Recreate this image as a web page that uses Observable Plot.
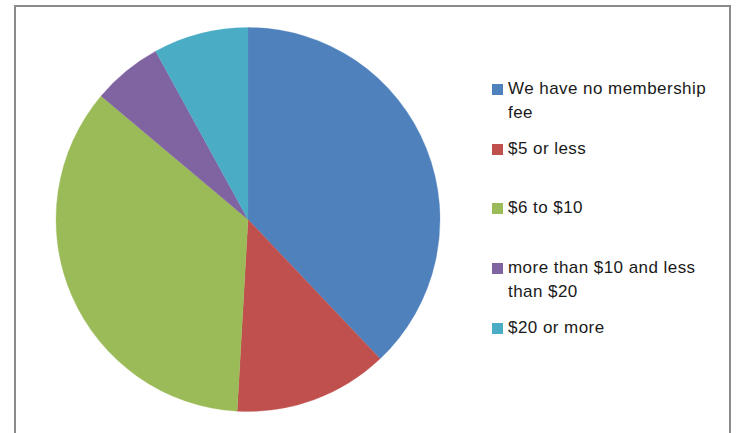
<!DOCTYPE html>
<html>
<head>
<meta charset="utf-8">
<script src="https://cdn.jsdelivr.net/npm/d3@7"></script>
<script src="https://cdn.jsdelivr.net/npm/@observablehq/plot@0.6"></script>
<style>
  html, body { margin: 0; padding: 0; background: #fff; overflow: hidden; }
  #wrap { position: relative; width: 736px; height: 433px; overflow: hidden; }
  #border { position: absolute; left: 14px; top: 5px; width: 717px; height: 460px; border: 2px solid #8a8a8a; box-sizing: border-box; }
  #chart { position: absolute; left: 0; top: 0; }
  .leg { position: absolute; left: 492px; font-family: "Liberation Sans", Arial, sans-serif; font-size: 17px; letter-spacing: 0.45px; line-height: 24px; color: #1a1a1a; }
  .leg .sw { position: absolute; left: 0; top: 7px; width: 11px; height: 11px; }
  .leg .tx { position: absolute; left: 16px; top: 0; width: 225px; white-space: nowrap; }
</style>
</head>
<body>
<div id="wrap">
  <div id="border"></div>
  <div id="chart"></div>
</div>
<script>
const categories = ["We have no membership fee", "$5 or less", "$6 to $10", "more than $10 and less than $20", "$20 or more"];
const shares = [38, 13, 35.3, 5.9, 8];
const colors = ["#4f81bd", "#c0504d", "#9bbb59", "#8064a2", "#4bacc6"];

const data = categories.map((c, i) => ({label: c, value: shares[i]}));

const W = 736, H = 433;
const M = {left: 56, right: 296, top: 27.5, bottom: 21.5};
const colorScale = Plot.scale({color: {domain: categories, range: colors}});

function pieMark() {
  const w = W - M.left - M.right;
  const h = H - M.top - M.bottom;
  const cx = M.left + w / 2;
  const cy = M.top + h / 2;
  const radius = Math.min(w, h) / 2;
  const pie = d3.pie().sort(null).value(d => d.value)(data);
  const arc = d3.arc().innerRadius(0).outerRadius(radius);
  const g = d3.create("svg:g").attr("transform", `translate(${cx},${cy})`);
  g.selectAll("path").data(pie).join("path")
    .attr("d", arc)
    .attr("fill", d => colorScale.apply(d.data.label))
    .attr("stroke", d => colorScale.apply(d.data.label))
    .attr("stroke-width", 0.3);
  return g.node();
}

const plot = Plot.plot({
  width: W,
  height: H,
  marginLeft: M.left,
  marginRight: M.right,
  marginTop: M.top,
  marginBottom: M.bottom,
  style: {background: "transparent"},
  x: {axis: null},
  y: {axis: null},
  marks: [pieMark]
});
document.getElementById("chart").appendChild(plot);

// legend
const legendRows = [
  {lines: ["We have no membership", "fee"], top: 77},
  {lines: ["$5 or less"], top: 137},
  {lines: ["$6 to $10"], top: 196},
  {lines: ["more than $10 and less", "than $20"], top: 256},
  {lines: ["$20 or more"], top: 316}
];
const wrap = document.getElementById("wrap");
categories.forEach((c, i) => {
  const row = document.createElement("div");
  row.className = "leg";
  row.style.top = legendRows[i].top + "px";
  const sw = document.createElement("div");
  sw.className = "sw";
  sw.style.background = colorScale.apply(c);
  const tx = document.createElement("div");
  tx.className = "tx";
  legendRows[i].lines.forEach((l, k) => {
    if (k > 0) tx.appendChild(document.createElement("br"));
    tx.appendChild(document.createTextNode(l));
  });
  row.appendChild(sw);
  row.appendChild(tx);
  wrap.appendChild(row);
});
</script>
</body>
</html>
